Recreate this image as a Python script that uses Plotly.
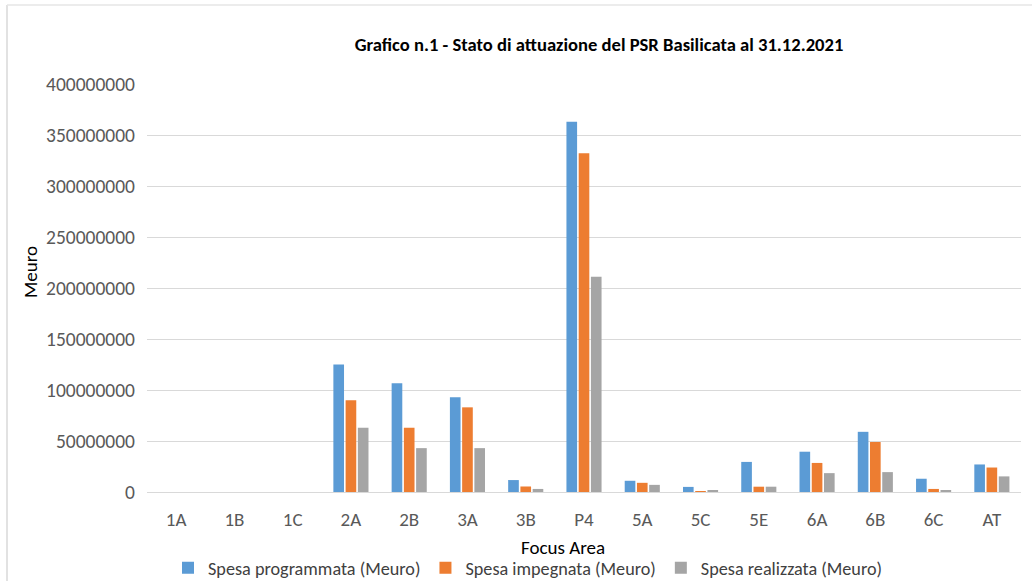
import plotly.graph_objects as go

categories = ["1A", "1B", "1C", "2A", "2B", "3A", "3B", "P4", "5A", "5C", "5E", "6A", "6B", "6C", "AT"]
spesa_programmata = [0, 0, 0, 125000000, 106500000, 93000000, 11700000, 363000000, 11000000, 5000000, 29500000, 39500000, 59000000, 13000000, 27000000]
spesa_impegnata = [0, 0, 0, 90000000, 63000000, 83000000, 5400000, 332000000, 9000000, 600000, 5200000, 28500000, 49000000, 3000000, 24000000]
spesa_realizzata = [0, 0, 0, 63000000, 43000000, 43000000, 3000000, 211000000, 7000000, 1000000, 5200000, 18500000, 19500000, 1000000, 15300000]
series_names = ["Spesa programmata (Meuro)", "Spesa impegnata (Meuro)", "Spesa realizzata (Meuro)"]
y_ticks = [0, 50000000, 100000000, 150000000, 200000000, 250000000, 300000000, 350000000, 400000000]

colors = ["#5B9BD5", "#ED7D31", "#A5A5A5"]
FONT = "Carlito, Calibri, 'Liberation Sans Narrow', 'Open Sans', sans-serif"

fig = go.Figure()
for name, vals, col in zip(series_names, [spesa_programmata, spesa_impegnata, spesa_realizzata], colors):
    fig.add_trace(go.Bar(x=categories, y=vals, name=name, marker=dict(color=col, line=dict(width=0))))

L, R, T, B = 147, 11, 84, 89
W, H = 1032, 581
pw = W - L - R
ph = H - T - B

def px_x(p):
    return (p - L) / pw

def px_y(p):
    return (H - B - p) / ph

fig.update_layout(
    width=W, height=H,
    margin=dict(l=L, r=R, t=T, b=B, autoexpand=False),
    paper_bgcolor="white", plot_bgcolor="white",
    barmode="group", bargap=0.37, bargroupgap=0.13,
    font=dict(family=FONT, color="#595959", size=19),
    title=dict(text="<b>Grafico n.1 - Stato di attuazione del PSR Basilicata al 31.12.2021</b>",
               x=px_x(599), xref="paper", xanchor="center",
               y=1 - 44 / H, yref="container", yanchor="middle",
               font=dict(family=FONT, size=18.6, color="#000000")),
    showlegend=True,
    legend=dict(orientation="h", x=px_x(528), xanchor="center", y=px_y(568), yanchor="middle",
                font=dict(family=FONT, size=18.2, color="#404040"), itemwidth=30,
                bgcolor="rgba(0,0,0,0)"),
    xaxis=dict(showgrid=False, showline=True, linecolor="#D9D9D9", linewidth=1,
               ticks="", tickfont=dict(size=19, color="#595959"), ticklabelstandoff=10,
               fixedrange=True),
    yaxis=dict(range=[0, 400000000], tickvals=y_ticks, ticktext=[str(v) for v in y_ticks],
               showgrid=True, gridcolor="#D9D9D9", gridwidth=1, zeroline=False,
               showline=False, ticks="", tickfont=dict(size=19.5, color="#595959"),
               ticklabelstandoff=11),
    annotations=[
        dict(text="Meuro", x=px_x(30), xref="paper", y=px_y(272), yref="paper", showarrow=False,
             textangle=-90, font=dict(family=FONT, size=19, color="#000000"),
             xanchor="center", yanchor="middle"),
        dict(text="Focus Area", x=px_x(563), xref="paper", y=px_y(547), yref="paper", showarrow=False,
             font=dict(family=FONT, size=19, color="#000000"), xanchor="center", yanchor="middle"),
    ],
    shapes=[
        dict(type="line", xref="paper", yref="paper", x0=px_x(7), x1=px_x(7), y0=px_y(5), y1=px_y(585),
             line=dict(color="#D9D9D9", width=1.5)),
        dict(type="line", xref="paper", yref="paper", x0=px_x(7), x1=px_x(1040), y0=px_y(5), y1=px_y(5),
             line=dict(color="#E6E6E6", width=1.5)),
    ],
)

fig.write_html("out.html", config={"displayModeBar": False},
               post_script="document.body.style.margin='0';document.body.style.overflow='hidden';")
